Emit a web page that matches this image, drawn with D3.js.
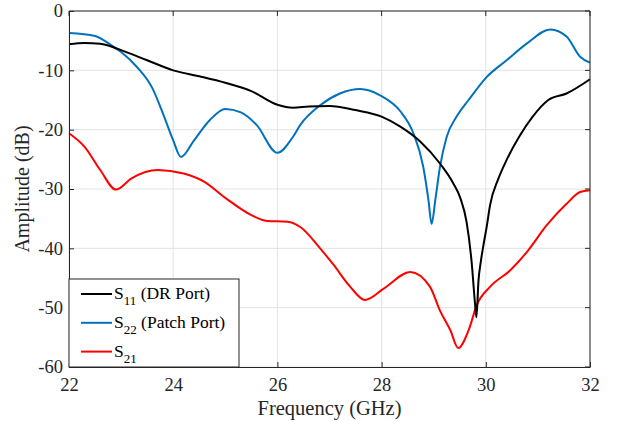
<!DOCTYPE html>
<html lang="en">
<head>
<meta charset="UTF-8">
<script src="https://d3js.org/d3.v7.min.js"></script>
<style>
  body { margin: 0; background: #fff; }
  svg { font-family: "Liberation Serif", "Times New Roman", serif; }
</style>
</head>
<body>
<svg id="chart" width="619" height="421"></svg>
<script>
// frequency (GHz) and amplitude (dB)
var s11Freq = [22, 22.3, 22.6, 23, 23.5, 24, 24.5, 25, 25.5, 26, 26.3, 26.6, 27, 27.5, 28, 28.36, 28.74, 29.12, 29.38, 29.51, 29.63, 29.73, 29.79, 29.82, 29.86, 29.9, 29.95, 30.02, 30.08, 30.24, 30.4, 30.64, 30.9, 31.2, 31.55, 32];
var s11Amp  = [-5.6, -5.4, -5.5, -6.6, -8.3, -10, -11, -12.1, -13.5, -15.8, -16.3, -16.1, -16, -16.7, -17.8, -19.5, -22, -25.7, -29.1, -31.5, -35.5, -42.5, -49, -51.6, -45.4, -42.5, -39.7, -36.2, -32.8, -28.3, -25.1, -21.2, -17.8, -15, -13.9, -11.5];

var s22Freq = [22, 22.5, 22.8, 23, 23.3, 23.6, 23.8, 24, 24.15, 24.4, 24.7, 25, 25.3, 25.6, 26, 26.3, 26.44, 26.82, 27.2, 27.59, 27.97, 28.36, 28.61, 28.8, 28.9, 28.96, 29.03, 29.12, 29.25, 29.44, 29.67, 30.02, 30.4, 30.79, 31.24, 31.55, 31.81, 32];
var s22Amp  = [-3.7, -4.2, -5.7, -6.9, -9.4, -13, -17.2, -21.8, -24.6, -21.8, -18.4, -16.5, -17.1, -19.2, -23.9, -21.2, -19.2, -15.9, -13.9, -13.15, -14.2, -16.9, -20.6, -26.3, -31.9, -35.9, -31.9, -26.3, -21.2, -17.8, -15, -11.1, -8.3, -5.45, -3.1, -4.3, -7.7, -8.7];

var s21Freq = [22, 22.3, 22.6, 22.9, 23.2, 23.7, 24.2, 24.6, 25, 25.5, 25.8, 26.2, 26.44, 26.82, 27.08, 27.4, 27.68, 28.04, 28.55, 28.93, 29.12, 29.32, 29.47, 29.67, 29.83, 30.08, 30.47, 30.79, 31.17, 31.55, 31.81, 32];
var s21Amp  = [-20.6, -22.9, -26.8, -30.1, -28.2, -26.8, -27.4, -28.8, -31.5, -34.4, -35.4, -35.5, -36.4, -40, -42.8, -46.5, -48.7, -46.8, -44, -46.5, -50.5, -53.8, -56.8, -53.8, -49.5, -46.5, -43.7, -40.6, -36.1, -32.5, -30.5, -30.2];

var xTicks = [22, 24, 26, 28, 30, 32];
var yTicks = [0, -10, -20, -30, -40, -50, -60];

var seriesSub = ["11", "22", "21"];
var seriesNote = [" (DR Port)", " (Patch Port)", ""];
var seriesColors = ["#000000", "#0072BD", "#FF0000"];

var svg = d3.select("#chart");
var plotL = 69, plotR = 590, plotT = 11, plotB = 367;
var axisColor = "#262626";

var x = d3.scaleLinear().domain([22, 32]).range([plotL, plotR]);
var y = d3.scaleLinear().domain([-60, 0]).range([plotB, plotT]);

// grid
svg.append("g").selectAll("line").data(xTicks).enter().append("line")
    .attr("x1", function (d) { return x(d); }).attr("x2", function (d) { return x(d); })
    .attr("y1", plotT).attr("y2", plotB)
    .attr("stroke", "#e3e3e3").attr("stroke-width", 1);
svg.append("g").selectAll("line").data(yTicks).enter().append("line")
    .attr("x1", plotL).attr("x2", plotR)
    .attr("y1", function (d) { return y(d); }).attr("y2", function (d) { return y(d); })
    .attr("stroke", "#e3e3e3").attr("stroke-width", 1);

// curves
var data = [
    s11Freq.map(function (f, i) { return [f, s11Amp[i]]; }),
    s22Freq.map(function (f, i) { return [f, s22Amp[i]]; }),
    s21Freq.map(function (f, i) { return [f, s21Amp[i]]; })
];
var line = d3.line()
    .x(function (d) { return x(d[0]); })
    .y(function (d) { return y(d[1]); })
    .curve(d3.curveMonotoneX);

// draw order: S21, S22, S11 on top
[2, 1, 0].forEach(function (k) {
    svg.append("path")
        .datum(data[k])
        .attr("d", line)
        .attr("fill", "none")
        .attr("stroke", seriesColors[k])
        .attr("stroke-width", 2)
        .attr("stroke-linejoin", "round");
});

// axes
var xAxis = d3.axisBottom(x).tickValues(xTicks).tickSizeInner(-5).tickSizeOuter(0).tickPadding(11);
var yAxis = d3.axisLeft(y).tickValues(yTicks).tickSizeInner(-5).tickSizeOuter(0).tickPadding(6);

var gx = svg.append("g").attr("transform", "translate(0," + plotB + ")").call(xAxis);
var gy = svg.append("g").attr("transform", "translate(" + plotL + ",0)").call(yAxis);
[gx, gy].forEach(function (g) {
    g.selectAll("path").attr("stroke", axisColor);
    g.selectAll("line").attr("stroke", axisColor);
    g.selectAll("text").attr("fill", axisColor).style("font-size", "18.5px")
        .style("font-family", "'Liberation Serif', serif");
});
gy.selectAll("text").text(function (d) { return d; });

// box top / right
svg.append("line").attr("x1", plotL).attr("x2", plotR).attr("y1", plotT).attr("y2", plotT)
    .attr("stroke", axisColor);
svg.append("line").attr("x1", plotR).attr("x2", plotR).attr("y1", plotT).attr("y2", plotB)
    .attr("stroke", axisColor);
svg.append("g").selectAll("line").data(yTicks).enter().append("line")
    .attr("x1", plotR - 5).attr("x2", plotR)
    .attr("y1", function (d) { return y(d); }).attr("y2", function (d) { return y(d); })
    .attr("stroke", axisColor);
svg.append("g").selectAll("line").data(xTicks).enter().append("line")
    .attr("x1", function (d) { return x(d); }).attr("x2", function (d) { return x(d); })
    .attr("y1", plotT).attr("y2", plotT + 5)
    .attr("stroke", axisColor);

// axis labels
svg.append("text")
    .attr("x", (plotL + plotR) / 2).attr("y", 415)
    .attr("text-anchor", "middle")
    .style("font-size", "20.5px").attr("fill", axisColor)
    .text("Frequency (GHz)");
svg.append("text")
    .attr("transform", "translate(29," + ((plotT + plotB) / 2) + ") rotate(-90)")
    .attr("text-anchor", "middle")
    .style("font-size", "20px").attr("fill", axisColor)
    .text("Amplitude (dB)");

// legend
var leg = svg.append("g");
leg.append("rect")
    .attr("x", plotL).attr("y", 279).attr("width", 170).attr("height", 88)
    .attr("fill", "#fff").attr("stroke", axisColor).attr("stroke-width", 1);
seriesSub.forEach(function (sub, i) {
    var ly = 294 + i * 28.8;
    leg.append("line")
        .attr("x1", 81).attr("x2", 112).attr("y1", ly).attr("y2", ly)
        .attr("stroke", seriesColors[i]).attr("stroke-width", 2);
    var t = leg.append("text")
        .attr("x", 114).attr("y", ly + 5)
        .style("font-size", "17.5px").attr("fill", "#000");
    t.append("tspan").text("S");
    t.append("tspan").attr("dy", 6).style("font-size", "13px").text(sub);
    t.append("tspan").attr("dy", -6).text(seriesNote[i]);
});
</script>
</body>
</html>
